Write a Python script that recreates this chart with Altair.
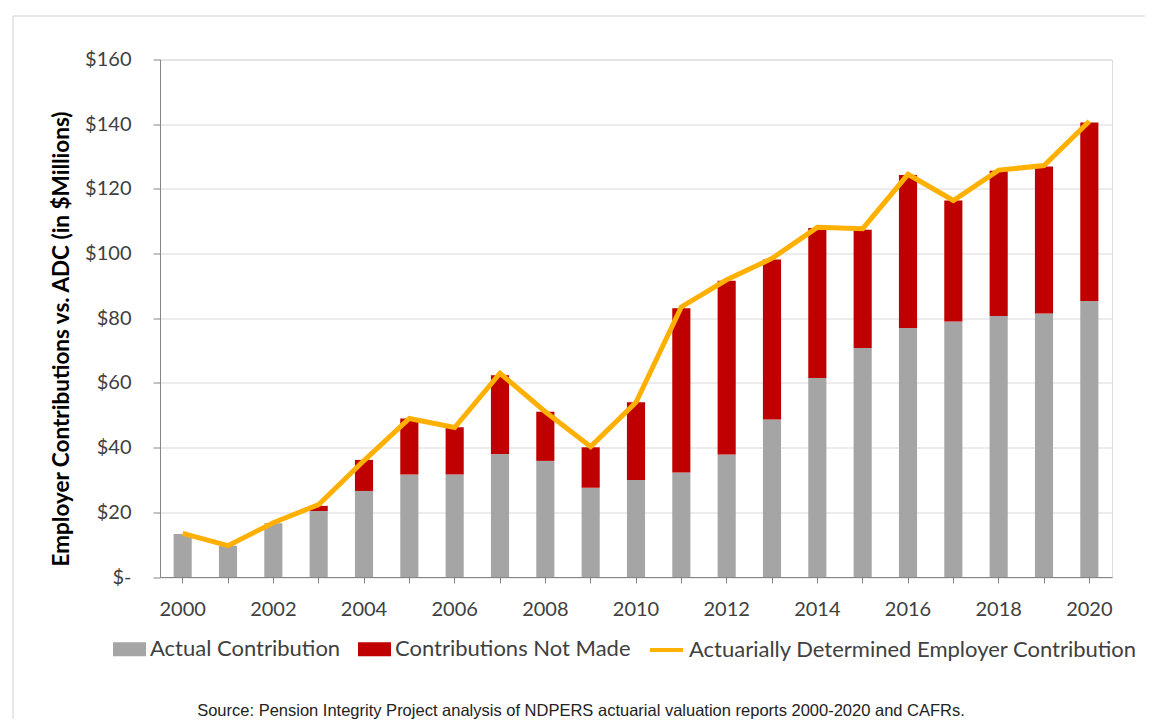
import altair as alt
import pandas as pd

years = ["2000", "2001", "2002", "2003", "2004", "2005", "2006", "2007", "2008", "2009", "2010",
         "2011", "2012", "2013", "2014", "2015", "2016", "2017", "2018", "2019", "2020"]
actual = [13.3, 9.7, 16.6, 20.4, 26.6, 31.7, 31.7, 38.0, 35.9, 27.6, 30.0,
          32.3, 37.9, 48.7, 61.5, 70.8, 77.0, 79.0, 80.7, 81.5, 85.3]
not_made = [0.0, 0.0, 0.0, 1.6, 9.6, 17.3, 14.6, 24.4, 15.2, 12.5, 24.0,
            50.8, 53.7, 49.5, 46.4, 36.6, 47.3, 37.4, 44.9, 45.4, 55.2]
adc = [13.5, 9.7, 16.8, 22.4, 36.0, 49.0, 46.2, 63.0, 51.1, 40.3, 54.0,
       83.5, 91.9, 98.5, 108.1, 107.7, 124.5, 116.4, 125.8, 127.2, 140.9]

bar_names = ["Actual Contribution", "Contributions Not Made"]
bar_colors = ["#A5A5A5", "#C00000"]
line_name = "Actuarially Determined Employer Contribution"
line_color = "#FFB000"
y_title = "Employer Contributions vs. ADC (in $Millions)"
source_text = "Source: Pension Integrity Project analysis of NDPERS actuarial valuation reports 2000-2020 and CAFRs."

bars_df = pd.DataFrame({
    "year": years * 2,
    "value": actual + not_made,
    "series": [bar_names[0]] * len(years) + [bar_names[1]] * len(years),
    "order": [0] * len(years) + [1] * len(years),
})
line_df = pd.DataFrame({"year": years, "value": adc, "series": [line_name] * len(years)})
note_df = pd.DataFrame({"text": [source_text]})

x_enc = alt.X("year:O", title=None, scale=alt.Scale(paddingInner=0.6, paddingOuter=0.3),
              axis=alt.Axis(labelExpr="parseInt(datum.value) % 2 == 0 ? datum.label : ''",
                            labelAngle=0, labelFont="Lato", labelFontSize=20, labelColor="#404040",
                            tickSize=6, tickColor="#868686", domainColor="#868686",
                            labelPadding=16, grid=False))
y_scale = alt.Scale(domain=[0, 160])

common_legend = dict(direction="horizontal", title=None, orient="none",
                     labelFont="Lato", labelFontSize=22, labelColor="#404040",
                     symbolSize=1089, labelOffset=4, columnPadding=17, labelLimit=600,
                     symbolOpacity=1)

bars = alt.Chart(bars_df).mark_bar().encode(
    x=x_enc,
    y=alt.Y("value:Q", stack="zero", scale=y_scale, title=y_title,
            axis=alt.Axis(values=[0, 20, 40, 60, 80, 100, 120, 140, 160],
                          labelExpr="datum.value == 0 ? '$-' : '$' + datum.value",
                          labelFont="Lato", labelFontSize=20, labelColor="#404040",
                          tickSize=7, tickColor="#868686", domainColor="#868686",
                          labelPadding=22, gridColor="#D9D9D9", gridWidth=1.2,
                          titleFont="Lato", titleFontSize=22.5, titleFontWeight="bold",
                          titleColor="#000000", titleX=-99, titleY=279,
                          titleBaseline="middle", titleAngle=270)),
    color=alt.Color("series:N", scale=alt.Scale(domain=bar_names, range=bar_colors),
                    legend=alt.Legend(legendX=-47, legendY=573,
                                      symbolType="M-1,-0.42H1V0.42H-1Z",
                                      symbolStrokeWidth=0, **common_legend)),
    order=alt.Order("order:Q"),
)

line = alt.Chart(line_df).mark_line(strokeWidth=5, strokeJoin="miter").encode(
    x=alt.X("year:O"),
    y=alt.Y("value:Q", scale=y_scale),
    color=alt.Color("series:N", scale=alt.Scale(domain=[line_name], range=[line_color]),
                    legend=alt.Legend(legendX=488, legendY=572, symbolType="stroke",
                                      symbolStrokeWidth=4, **common_legend)),
)

note = alt.Chart(note_df).mark_text(font="Liberation Sans", fontSize=16.5, color="#222222",
                                    align="center", baseline="middle").encode(
    text="text:N", x=alt.value(421), y=alt.value(651)
)

frame_top = alt.Chart(note_df).mark_rule(stroke="#D0D0D0", strokeWidth=1).encode(
    x=alt.value(-147), x2=alt.value(1100), y=alt.value(-43.5)
)
frame_left = alt.Chart(note_df).mark_rule(stroke="#D0D0D0", strokeWidth=1).encode(
    x=alt.value(-147), y=alt.value(-43.5), y2=alt.value(800)
)

chart = alt.layer(frame_top, frame_left, bars, line, note).resolve_scale(color="independent").properties(
    width=952, height=517.5,
    autosize=alt.AutoSizeParams(type="none"),
    padding={"left": 152, "top": 51.5, "right": 33, "bottom": 142},
).configure_view(stroke=None).configure(background="white")

chart.save("out.html", embed_options={"renderer": "svg", "actions": False})
